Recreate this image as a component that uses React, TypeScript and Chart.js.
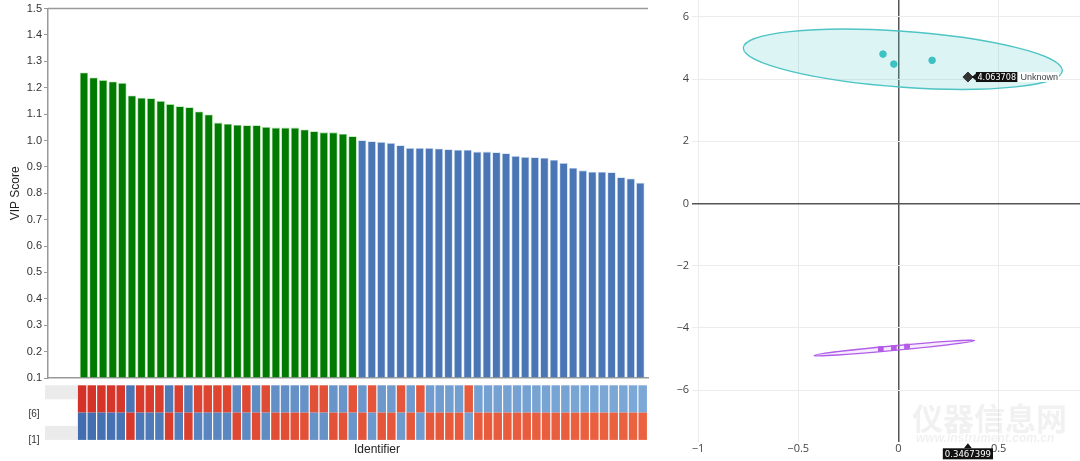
import React, { useEffect, useRef } from "react";
import { Chart, registerables } from "chart.js";
Chart.register(...registerables);

// ---------- Left chart data (VIP scores) ----------
const vipHigh = [1.258, 1.239, 1.229, 1.224, 1.218, 1.171, 1.162, 1.16, 1.15, 1.138, 1.13, 1.126, 1.11, 1.099, 1.068, 1.064, 1.06, 1.058, 1.058, 1.051, 1.049, 1.049, 1.049, 1.042, 1.035, 1.031, 1.031, 1.026, 1.016];
const vipLow = [1.001, 0.997, 0.995, 0.991, 0.982, 0.972, 0.972, 0.972, 0.97, 0.967, 0.965, 0.965, 0.958, 0.958, 0.956, 0.952, 0.942, 0.938, 0.937, 0.935, 0.927, 0.915, 0.897, 0.887, 0.882, 0.882, 0.88, 0.861, 0.856, 0.84];
const vipMin = 0.1;
const vipMax = 1.5;
const vipStep = 0.1;
// heatmap: top row value (+ red / - blue); bottom row is its opposite
const heatTop = [0.95, 0.94, 0.93, 0.92, 0.91, -0.9, 0.88, 0.87, 0.86, -0.86, 0.84, -0.84, 0.8, 0.79, 0.78, 0.78, -0.76, 0.76, -0.74, 0.74, -0.72, -0.72, -0.71, -0.7, 0.7, 0.7, -0.69, -0.68, 0.68, -0.67, 0.66, -0.66, -0.65, 0.65, -0.64, 0.64, -0.63, -0.63, -0.62, -0.62, 0.62, -0.6, -0.6, -0.6, -0.59, -0.59, -0.59, -0.58, -0.58, -0.58, -0.58, -0.57, -0.57, -0.57, -0.56, -0.56, -0.56, -0.55, -0.55];
const heatRowLabels = ["[6]", "[1]"];
const xTitle = "Identifier";
const yTitle = "VIP Score";

// ---------- Right chart data (score plot) ----------
const groupAX = [-0.077, -0.023, 0.168];
const groupAY = [4.8, 4.48, 4.6];
const groupBX = [-0.088, -0.023, 0.043];
const groupBY = [-4.68, -4.65, -4.6];
const unknownX = 0.3467399;
const unknownY = 4.063708;
const unknownName = "Unknown";
// confidence ellipses: centre + two conjugate radius vectors (data units)
const ellipseA = { cx: 0.022, cy: 4.635, ux: 0.796, uy: -0.36, vx: 0, vy: 0.9 };
const ellipseB = { cx: -0.02, cy: -4.65, ux: 0.4, uy: 0.24, vx: 0, vy: 0.075 };

const SANS = "'Liberation Sans', Arial, sans-serif";
const NARROW = "'Liberation Sans Narrow', 'DejaVu Sans Condensed', sans-serif";

function mix(a: number[], b: number[], t: number) {
  const c = a.map((v, i) => Math.round(v + (b[i] - v) * t));
  return `rgb(${c[0]},${c[1]},${c[2]})`;
}
function heatColor(v: number) {
  const m = Math.abs(v);
  const t = Math.max(0, Math.min(1, (m - 0.55) / 0.4));
  return v > 0 ? mix([235, 98, 64], [212, 50, 40], t) : mix([124, 168, 215], [66, 110, 176], t);
}
const fmtMinus = (v: number) => (v < 0 ? "\u2212" + Math.abs(v) : String(v));

const leftDecor = {
  id: "leftDecor",
  afterDraw(chart: any) {
    const { ctx, chartArea, scales } = chart;
    const xs = scales.x;
    ctx.save();
    // top frame line
    ctx.strokeStyle = "#999";
    ctx.lineWidth = 1.5;
    ctx.beginPath();
    ctx.moveTo(chartArea.left, chartArea.top);
    ctx.lineTo(chartArea.right, chartArea.top);
    ctx.stroke();
    // heatmap
    const n = heatTop.length;
    const x0 = xs.getPixelForValue(0.3);
    const x1 = xs.getPixelForValue(59.75);
    const cw = (x1 - x0) / n;
    const yTop = chartArea.bottom + 7.3;
    const rh = 27.3;
    // grey bands at left
    ctx.fillStyle = "#ebebeb";
    ctx.fillRect(45, yTop, x0 - 45, 14);
    ctx.fillRect(45, yTop + 2 * rh - 14, x0 - 45, 14);
    for (let i = 0; i < n; i++) {
      const cx = x0 + i * cw + 0.6;
      const w = cw - 1.2;
      ctx.fillStyle = heatColor(heatTop[i]);
      ctx.fillRect(cx, yTop, w, rh);
      ctx.fillStyle = heatColor(-heatTop[i]);
      ctx.fillRect(cx, yTop + rh, w, rh);
    }
    ctx.fillStyle = "#333";
    ctx.font = `10px ${SANS}`;
    ctx.textAlign = "center";
    ctx.textBaseline = "middle";
    ctx.fillText(heatRowLabels[0], 34, yTop + rh + 1.5);
    ctx.fillText(heatRowLabels[1], 34, yTop + 2 * rh + 0.5);
    ctx.fillStyle = "#222";
    ctx.font = `12px ${SANS}`;
    ctx.fillText(xTitle, 377, 450);
    ctx.restore();
  },
};

function drawEllipse(chart: any, e: any, fill: string, stroke: string) {
  const { ctx, scales, chartArea } = chart;
  const x = scales.x, y = scales.y;
  const cx = x.getPixelForValue(e.cx), cy = y.getPixelForValue(e.cy);
  const ux = x.getPixelForValue(e.cx + e.ux) - cx, uy = y.getPixelForValue(e.cy + e.uy) - cy;
  const vx = x.getPixelForValue(e.cx + e.vx) - cx, vy = y.getPixelForValue(e.cy + e.vy) - cy;
  ctx.save();
  ctx.beginPath();
  ctx.rect(chartArea.left, chartArea.top, chartArea.right - chartArea.left, chartArea.bottom - chartArea.top);
  ctx.clip();
  ctx.beginPath();
  ctx.save();
  ctx.transform(ux, uy, vx, vy, cx, cy);
  ctx.arc(0, 0, 1, 0, Math.PI * 2);
  ctx.restore();
  ctx.fillStyle = fill;
  ctx.fill();
  ctx.strokeStyle = stroke;
  ctx.lineWidth = 1.3;
  ctx.stroke();
  ctx.restore();
}

const rightDecor = {
  id: "rightDecor",
  beforeDatasetsDraw(chart: any) {
    drawEllipse(chart, ellipseA, "rgba(80,200,200,0.2)", "#4ec4c4");
    drawEllipse(chart, ellipseB, "rgba(180,100,240,0.12)", "#b15ee9");
  },
  afterDraw(chart: any) {
    const { ctx, scales } = chart;
    const px = scales.x.getPixelForValue(unknownX);
    const py = scales.y.getPixelForValue(unknownY);
    ctx.save();
    // watermark
    ctx.fillStyle = "rgba(185,185,185,0.2)";
    ctx.font = `bold 31px 'Noto Sans CJK SC', sans-serif`;
    ctx.textBaseline = "alphabetic";
    ctx.textAlign = "left";
    ctx.fillText("仪器信息网", 252, 430);
    ctx.font = `bold italic 12px ${SANS}`;
    ctx.fillText("www.instrument.com.cn", 256, 442);
    // y label box
    ctx.font = `9px ${NARROW}`;
    ctx.textBaseline = "middle";
    const t1 = unknownY.toFixed(6);
    const w1 = ctx.measureText(t1).width + 3;
    const bx = px + 8;
    ctx.fillStyle = "#111";
    ctx.fillRect(bx, py - 5, w1, 10);
    ctx.beginPath();
    ctx.moveTo(px + 4, py);
    ctx.lineTo(bx, py - 3.5);
    ctx.lineTo(bx, py + 3.5);
    ctx.closePath();
    ctx.fill();
    ctx.fillStyle = "#fff";
    ctx.textAlign = "left";
    ctx.fillText(t1, bx + 1.5, py + 0.5);
    ctx.font = `9px ${SANS}`;
    const w2 = ctx.measureText(unknownName).width + 4;
    ctx.fillStyle = "rgba(255,255,255,0.9)";
    ctx.fillRect(bx + w1, py - 5, w2, 10);
    ctx.fillStyle = "#444";
    ctx.fillText(unknownName, bx + w1 + 3, py + 0.5);
    // x label box
    ctx.font = `9.5px ${NARROW}`;
    const t2 = String(unknownX);
    const w3 = ctx.measureText(t2).width + 4;
    const by = 448.3;
    ctx.fillStyle = "#111";
    ctx.fillRect(px - w3 / 2, by, w3, 11);
    ctx.beginPath();
    ctx.moveTo(px, by - 5);
    ctx.lineTo(px - 4, by);
    ctx.lineTo(px + 4, by);
    ctx.closePath();
    ctx.fill();
    ctx.fillStyle = "#fff";
    ctx.textAlign = "center";
    ctx.fillText(t2, px, by + 6);
    ctx.restore();
  },
};

export default function App() {
  const leftRef = useRef<HTMLCanvasElement>(null);
  const rightRef = useRef<HTMLCanvasElement>(null);

  useEffect(() => {
    const left = new Chart(leftRef.current as HTMLCanvasElement, {
      type: "bar",
      data: {
        datasets: [
          {
            data: vipHigh.map((v, i) => ({ x: i + 1, y: v })),
            backgroundColor: "#007a00",
            borderColor: "#a6dca0",
            borderWidth: 0.8,
            barPercentage: 0.88,
            categoryPercentage: 1,
            grouped: false,
            base: vipMin,
          } as any,
          {
            data: vipLow.map((v, i) => ({ x: vipHigh.length + i + 1, y: v })),
            backgroundColor: "#4a76b6",
            borderColor: "#c6daf0",
            borderWidth: 0.8,
            barPercentage: 0.88,
            categoryPercentage: 1,
            grouped: false,
            base: vipMin,
          } as any,
        ],
      },
      options: {
        animation: false,
        responsive: false,
        plugins: { legend: { display: false }, tooltip: { enabled: false } },
        layout: { padding: { top: 6, right: 12, left: 0, bottom: 0 }, autoPadding: false },
        scales: {
          x: {
            type: "linear",
            offset: false,
            min: -2.75,
            max: 59.8,
            ticks: { display: false },
            grid: { display: false, drawTicks: false, offset: false },
            border: { color: "#999", width: 1.5 },
            afterFit: (s: any) => {
              s.height = 83;
            },
          },
          y: {
            min: vipMin,
            max: vipMax,
            ticks: {
              stepSize: vipStep,
              callback: (v: any) => Number(v).toFixed(1),
              color: "#333",
              font: { size: 11, family: SANS },
              padding: 2,
            },
            grid: { drawOnChartArea: false, tickLength: 4, color: "#999" },
            border: { color: "#999", width: 1.5 },
            title: {
              display: true,
              text: yTitle,
              color: "#222",
              font: { size: 12, family: SANS },
              padding: { top: 8, bottom: 0 },
            },
            afterFit: (s: any) => {
              s.width = 48;
            },
          },
        },
      } as any,
      plugins: [leftDecor],
    });

    const right = new Chart(rightRef.current as HTMLCanvasElement, {
      type: "scatter",
      data: {
        datasets: [
          {
            data: groupAX.map((x, i) => ({ x, y: groupAY[i] })),
            backgroundColor: "#3cc2c2",
            borderColor: "#3cc2c2",
            pointRadius: 3.3,
            pointStyle: "circle",
          },
          {
            data: groupBX.map((x, i) => ({ x, y: groupBY[i] })),
            backgroundColor: "#b45ce8",
            borderColor: "#b45ce8",
            pointRadius: 3.3,
            pointStyle: "rect",
          },
          {
            data: [{ x: unknownX, y: unknownY }],
            backgroundColor: "#333",
            borderColor: "#333",
            pointRadius: 5,
            pointStyle: "rectRot",
          },
        ],
      },
      options: {
        animation: false,
        responsive: false,
        plugins: { legend: { display: false }, tooltip: { enabled: false } },
        layout: { padding: 0, autoPadding: false },
        scales: {
          x: {
            type: "linear",
            min: -1.03,
            max: 0.906,
            ticks: {
              stepSize: 0.5,
              includeBounds: false,
              callback: (v: any) => fmtMinus(Number(v)),
              color: "#444",
              font: { size: 11, family: "'Open Sans', sans-serif" },
              padding: 0,
              maxRotation: 0,
            },
            grid: {
              color: (c: any) => (c.tick && c.tick.value === 0 ? "#555" : "#ececec"),
              lineWidth: (c: any) => (c.tick && c.tick.value === 0 ? 1.5 : 1),
              drawTicks: false,
            },
            border: { display: false },
            afterFit: (s: any) => {
              s.height = 19;
              s.paddingLeft = 0;
              s.paddingRight = 0;
            },
          },
          y: {
            min: -7.67,
            max: 6.54,
            ticks: {
              stepSize: 2,
              includeBounds: false,
              callback: (v: any) => fmtMinus(Number(v)),
              color: "#444",
              font: { size: 11, family: "'Open Sans', sans-serif" },
              padding: 3,
            },
            grid: {
              color: (c: any) => (c.tick && c.tick.value === 0 ? "#555" : "#ececec"),
              lineWidth: (c: any) => (c.tick && c.tick.value === 0 ? 1.5 : 1),
              drawTicks: false,
            },
            border: { display: false },
            afterFit: (s: any) => {
              s.width = 32;
              s.paddingTop = 0;
              s.paddingBottom = 0;
            },
          },
        },
      } as any,
      plugins: [rightDecor],
    });

    return () => {
      left.destroy();
      right.destroy();
    };
  }, []);

  return (
    <div style={{ position: "absolute", left: 0, top: 0, width: 1080, height: 461, background: "#fff" }}>
      <canvas
        ref={leftRef}
        width={660}
        height={461}
        style={{ position: "absolute", left: 0, top: 0, width: 660, height: 461 }}
      />
      <canvas
        ref={rightRef}
        width={420}
        height={461}
        style={{ position: "absolute", left: 660, top: 0, width: 420, height: 461 }}
      />
    </div>
  );
}
